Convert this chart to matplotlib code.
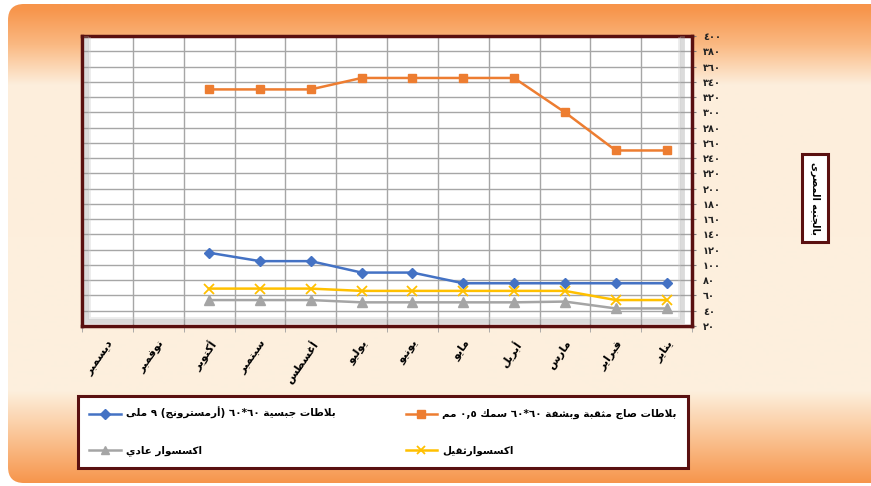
import re
import numpy as np
import matplotlib
matplotlib.use('Agg')
import matplotlib.pyplot as plt
from matplotlib.patches import FancyBboxPatch
from matplotlib.lines import Line2D

# months Jan..Dec (the x axis runs right to left)
months = ['يناير', 'فبراير', 'مارس', 'أبريل', 'مايو', 'يونيو',
          'يوليو', 'أغسطس', 'سبتمبر', 'أكتوبر', 'نوفمبر', 'ديسمبر']
nan = np.nan
perforated_tiles = [250, 250, 300, 345, 345, 345, 345, 330, 330, 330, nan, nan]
gypsum_tiles = [76, 76, 76, 76, 76, 90, 90, 105, 105, 116, nan, nan]
heavy_acc = [54, 54, 66, 66, 66, 66, 66, 69, 69, 69, nan, nan]
normal_acc = [43, 43, 52, 51, 51, 51, 51, 54, 54, 54, nan, nan]

names = ['بلاطات صاج مثقبة وبشفة ٦٠*٦٠ سمك ٠,٥ مم',
         'بلاطات جبسية ٦٠*٦٠ (أرمسترونج) ٩ ملى',
         'اكسسوارثقيل',
         'اكسسوار عادي']
unit_label = 'بالجنيه المصرى'
yticks = list(range(20, 401, 20))

# ---- minimal arabic shaping (matplotlib has no complex text layout) ----
AR_LETTERS = 'ءآأؤإئابةتثجحخدذرزسشصضطظعغفقكلمنهوىي'
AR_NFORMS = [1, 2, 2, 2, 2, 4, 2, 4, 2, 4, 4, 4, 4, 4, 2, 2, 2, 2,
             4, 4, 4, 4, 4, 4, 4, 4, 4, 4, 4, 4, 4, 4, 4, 2, 2, 4]
forms = {}
code = 0xFE80
for ch, n in zip(AR_LETTERS, AR_NFORMS):
    forms[ch] = [chr(code + k) for k in range(n)]   # isolated, final, initial, medial
    code += n
LAM_ALEF = {'آ': (0xFEF5, 0xFEF6), 'أ': (0xFEF7, 0xFEF8),
            'إ': (0xFEF9, 0xFEFA), 'ا': (0xFEFB, 0xFEFC)}


def shape(s):
    out = []
    i = 0
    prev_joins = False
    while i < len(s):
        ch = s[i]
        if ch not in forms:
            out.append(ch)
            prev_joins = False
            i += 1
            continue
        nxt = s[i + 1] if i + 1 < len(s) else ''
        if ch == 'ل' and nxt in LAM_ALEF:
            iso, fin = LAM_ALEF[nxt]
            out.append(chr(fin if prev_joins else iso))
            prev_joins = False
            i += 2
            continue
        f = forms[ch]
        next_joins = len(f) == 4 and nxt in forms
        if len(f) == 1:
            out.append(f[0])
        elif len(f) == 2:
            out.append(f[1] if prev_joins else f[0])
        else:
            if prev_joins and next_joins:
                out.append(f[3])
            elif prev_joins:
                out.append(f[1])
            elif next_joins:
                out.append(f[2])
            else:
                out.append(f[0])
        prev_joins = len(f) == 4
        i += 1
    return ''.join(out)


def ar(s):
    s = shape(s)
    runs = re.findall(r'[0-9٠-٩][0-9٠-٩*,.]*|.', s)
    mirror = {'(': ')', ')': '('}
    return ''.join(mirror.get(r, r) for r in reversed(runs))


def ar_digits(n):
    return ''.join(chr(0x0660 + int(d)) for d in str(n))


plt.rcParams['font.family'] = ['DejaVu Sans']
W, H = 871, 486
fig = plt.figure(figsize=(W / 100, H / 100), dpi=100)
fig.patch.set_facecolor('white')

# ---- orange / cream rounded background ----
bg = fig.add_axes([0, 0, 1, 1], zorder=-5)
bg.set_xlim(0, W)
bg.set_ylim(H, 0)
bg.axis('off')
ys = np.arange(H)
stops_y = [0, 10, 45, 85, 390, 440, 486]
stops_c = np.array([[247, 146, 72], [247, 150, 76], [250, 185, 130], [253, 238, 220],
                    [253, 240, 222], [250, 192, 142], [246, 146, 70]]) / 255
grad = np.stack([np.interp(ys, stops_y, stops_c[:, k]) for k in range(3)], axis=1)
grad = grad[:, None, :]
img = bg.imshow(grad, extent=[0, W, H, 0], aspect='auto', zorder=0)
panel = FancyBboxPatch((8, 4), W + 30, H - 7, boxstyle='round,pad=0,rounding_size=16',
                       transform=bg.transData, fc='none', ec='none')
bg.add_patch(panel)
img.set_clip_path(panel)

# ---- main plot ----
frame_col = '#5A1010'
x0, x1, y0, y1 = 82, 692, 36, 326
ax = fig.add_axes([x0 / W, 1 - y1 / H, (x1 - x0) / W, (y1 - y0) / H])
ax.set_facecolor('white')
x = np.arange(len(months))

ax.plot(x, gypsum_tiles, color='#4472C4', lw=1.8, marker='D', ms=5.5, zorder=3)
ax.plot(x, perforated_tiles, color='#ED7D31', lw=1.8, marker='s', ms=6, zorder=3)
ax.plot(x, normal_acc, color='#A5A5A5', lw=1.8, marker='^', ms=6.5, zorder=3)
ax.plot(x, heavy_acc, color='#FFC000', lw=1.8, marker='x', ms=6.5, mew=1.3, zorder=3)

ax.set_xlim(len(months) - 0.5, -0.5)
ax.set_ylim(20, 400)
ax.set_yticks(yticks)
ax.set_yticklabels([ar_digits(v) for v in yticks], fontsize=7, fontweight='bold')
ax.yaxis.tick_right()
ax.tick_params(axis='y', length=3, color='#7F7F7F', pad=5, labelcolor='#222222')

ax.set_xticks(x)
ax.set_xticklabels([ar(m) for m in months], rotation=55, ha='right', va='top',
                   rotation_mode='anchor', fontsize=8, fontweight='bold')
ax.set_xticks(np.arange(-0.5, len(months), 1), minor=True)
ax.tick_params(axis='x', which='major', length=0, pad=9)
ax.tick_params(axis='x', which='minor', length=4, color='#9F9F9F')

ax.grid(axis='y', color='#A6A6A6', lw=1)
ax.grid(axis='x', which='minor', color='#A6A6A6', lw=1)
ax.set_axisbelow(True)
for sp in ax.spines.values():
    sp.set_color(frame_col)
    sp.set_linewidth(2.5)

# bevel shading along the inside of the frame
ov = fig.add_axes([0, 0, 1, 1], zorder=5)
ov.set_xlim(0, W)
ov.set_ylim(H, 0)
ov.axis('off')
ov.plot([86, 86, 682, 682], [38, 321, 321, 38], color='#9A9A9A', lw=3.5, alpha=0.35,
        solid_joinstyle='miter')
ov.plot([89, 89, 679, 679], [38, 318, 318, 38], color='#C8C8C8', lw=2, alpha=0.35,
        solid_joinstyle='miter')

# ---- unit label box ----
fig.text(815 / W, 1 - 198 / H, ar(unit_label), rotation=270, ha='center', va='center',
         fontsize=7, fontweight='bold',
         bbox=dict(boxstyle='square,pad=0.8', fc='white', ec=frame_col, lw=2.2))

# ---- legend ----
handles = [
    Line2D([], [], color='#4472C4', lw=1.8, marker='D', ms=5),
    Line2D([], [], color='#A5A5A5', lw=1.8, marker='^', ms=6),
    Line2D([], [], color='#ED7D31', lw=1.8, marker='s', ms=6),
    Line2D([], [], color='#FFC000', lw=1.8, marker='x', ms=6, mew=1.3),
]
labels = [ar(names[1]), ar(names[3]), ar(names[0]), ar(names[2])]
leg = fig.legend(handles, labels, ncol=2, loc='upper left',
                 bbox_to_anchor=(78 / W, 1 - 470 / H, (688 - 78) / W, 74 / H),
                 mode='expand', borderaxespad=0, fancybox=False, framealpha=1,
                 edgecolor=frame_col, handlelength=3, handletextpad=0.5,
                 labelspacing=2.5, borderpad=1.1,
                 prop={'size': 7.5, 'weight': 'bold'})
leg.get_frame().set_linewidth(2.2)

fig.savefig('out.png', dpi=100)
